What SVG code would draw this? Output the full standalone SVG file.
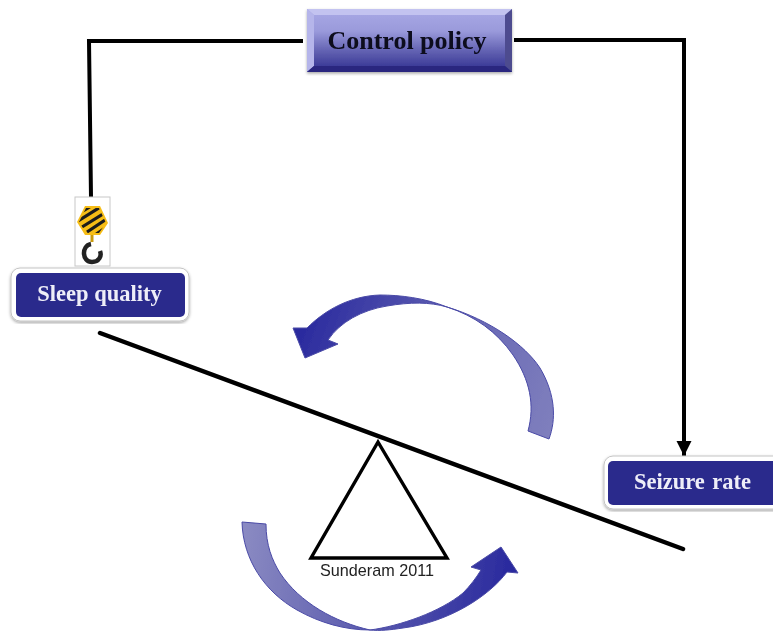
<svg xmlns="http://www.w3.org/2000/svg" width="773" height="634" viewBox="0 0 773 634">
<style>
.wire{fill:none;stroke:#000;stroke-width:4}
.label{font-family:"Liberation Serif","Times New Roman",serif;font-weight:bold;text-anchor:middle}
.w{fill:#eeeef8;font-size:22.500px}
.card{fill:#fff;stroke:#c4c4c4;stroke-width:1;filter:url(#sh)}
.inner{fill:#2b2a8c}
.tri{fill:#fff;stroke:#000;stroke-width:3.4;stroke-linejoin:miter}
.arc{stroke:#4a4aa6;stroke-width:1}
</style>
<defs>
<filter id="sh" x="-10%" y="-10%" width="120%" height="130%"><feDropShadow dx="0" dy="1.500" stdDeviation="1.500" flood-color="#000" flood-opacity=".35"/></filter>
<filter id="soft" x="-5%" y="-5%" width="110%" height="110%"><feGaussianBlur stdDeviation=".45"/></filter>
<marker id="ah" markerUnits="userSpaceOnUse" markerWidth="16" markerHeight="16" refX="15" refY="7.500" orient="auto"><path d="M0 0L15 7.500L0 15z" fill="#000"/></marker>
<linearGradient id="cp" x1="0" y1="0" x2="0" y2="1"><stop offset="0" stop-color="#a9a9e6"/><stop offset=".35" stop-color="#9a9adb"/><stop offset=".7" stop-color="#5d5cae"/><stop offset="1" stop-color="#2f2e8f"/></linearGradient>
<linearGradient id="g1" gradientUnits="userSpaceOnUse" x1="555" y1="420" x2="300" y2="330"><stop offset="0" stop-color="#7f7fbd"/><stop offset=".45" stop-color="#6565b4"/><stop offset="1" stop-color="#2a2a9e"/></linearGradient>
<linearGradient id="g2" gradientUnits="userSpaceOnUse" x1="245" y1="530" x2="510" y2="570"><stop offset="0" stop-color="#8a8ac2"/><stop offset=".45" stop-color="#6060b0"/><stop offset="1" stop-color="#2a2a9e"/></linearGradient>
<clipPath id="hex"><path d="M86 208H99L106 223L99 233H86L79 222z"/></clipPath>
</defs>

<g id="connectors" filter="url(#soft)">
<path class="wire" d="M303 41H89L91 197"/>
<path class="wire" d="M514 40H684V456" marker-end="url(#ah)"/>
<path id="beam" class="wire" style="stroke-width:4.500" stroke-linecap="round" d="M100 333L683 549"/>
</g>

<g id="control-policy" filter="url(#soft)">
<rect x="307" y="9" width="205" height="63" fill="url(#cp)" filter="url(#sh)"/>
<path d="M307 9H512L505 15H314z" fill="#c3c3f0"/>
<path d="M307 9L314 15V66L307 72z" fill="#b5b5ea"/>
<path d="M512 9L505 15V66L512 72z" fill="#4d4c8f"/>
<path d="M307 72L314 66H505L512 72z" fill="#29287f"/>
<text class="label" x="407" y="48.500" font-size="26" fill="#0a0a1c">Control policy</text>
</g>

<g id="hook" filter="url(#soft)">
<rect x="75" y="197" width="35" height="69" fill="#fff" stroke="#c8c8c8"/>
<path d="M85 206H100L108 223L100 235H85L77 222z" fill="#f6bd16"/>
<g clip-path="url(#hex)" stroke="#1c1c1c" stroke-width="3.200">
<path d="M78 214L96 203M78 221L102 206M82 227L108 211M87 232L108 218M95 235L108 226"/>
</g>
<path d="M92 235V242" stroke="#c99a10" stroke-width="3"/>
<path d="M91 244C81 246 82 262 92 262C99 262 102 256 100 251" fill="none" stroke="#222" stroke-width="4.500"/>
</g>

<g id="sleep-quality" filter="url(#soft)">
<rect class="card" x="11" y="268" width="178" height="53" rx="9"/>
<rect class="inner" x="16" y="273" width="169" height="44" rx="5"/>
<text class="label w" x="99.500" y="301">Sleep quality</text>
</g>

<g id="seizure-rate" filter="url(#soft)">
<rect class="card" x="604" y="456" width="185" height="53" rx="9"/>
<rect class="inner" x="608" y="461" width="175" height="44" rx="5"/>
<text class="label w" x="692.500" y="488.500" word-spacing="2">Seizure rate</text>
</g>

<g id="fulcrum" filter="url(#soft)">
<path class="tri" d="M378 442L311 558H447z"/>
<text x="377" y="576" font-family="'Liberation Sans',Arial,sans-serif" font-size="16.200" fill="#222" text-anchor="middle">Sunderam 2011</text>
</g>

<g id="arrows" filter="url(#soft)">
<path class="arc" fill="url(#g1)" d="M528 431L549 439C556 420 556 395 540 368C525 345 490 320 447 307C425 298 400 295 380 295C350 296 325 310 307 328L293 328L305 358L338 344L328 340C340 322 362 310 387 306C410 302 430 302 447 307C475 316 497 332 513 355C530 380 535 405 528 431z"/>
<path class="arc" fill="url(#g2)" d="M242 522L266 524C266 545 272 560 280 573C300 603 335 622 370 630C400 626 440 612 463 593C470 586 476 578 481 570L471 567L501 547L518 573L507 572C490 595 450 622 403 628C390 630 380 631 370 630C345 630 320 623 297 610C265 592 243 560 242 522z"/>
</g>
</svg>
